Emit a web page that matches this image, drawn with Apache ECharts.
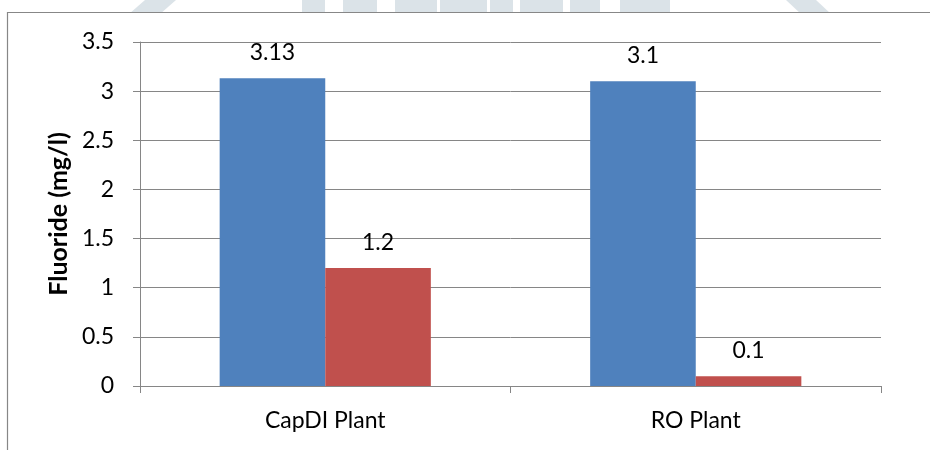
<!DOCTYPE html>
<html>
<head>
<meta charset="utf-8">
<script src="https://cdn.jsdelivr.net/npm/echarts@6/dist/echarts.min.js"></script>
<style>
  html, body { margin: 0; padding: 0; background: #ffffff; }
  #chart { width: 930px; height: 450px; }
</style>
</head>
<body>
<div id="chart"></div>
<script>
// Fluoride concentration, feed vs. treated water, per plant
const categories = ['CapDI Plant', 'RO Plant'];
const feedWater = [3.13, 3.1];
const treatedWater = [1.2, 0.1];
const yTicks = { min: 0, max: 3.5, interval: 0.5 };

const font = 'Lato, "Open Sans", "Liberation Sans", sans-serif';
const gridGray = '#868686';
const markColor = '#dbe3e8';

// faint logo pieces peeking above the chart frame
const logoBlocks = [
  [302, 23], [343, 34], [395, 42], [440, 47], [490, 23], [520, 43], [570, 30], [620, 50]
];
const logoGraphics = logoBlocks.map(([x, w]) => ({
  type: 'rect',
  z: -10,
  shape: { x: x, y: -10, width: w, height: 30, r: 8 },
  style: { fill: markColor }
}));
logoGraphics.push(
  {
    type: 'polygon', z: -10,
    shape: { points: [[145, 0], [176, 0], [160, 14], [129, 14]] },
    style: { fill: markColor }
  },
  {
    type: 'polygon', z: -10,
    shape: { points: [[786, 0], [816, 0], [831, 14], [801, 14]] },
    style: { fill: markColor }
  }
);

const chart = echarts.init(document.getElementById('chart'), null, { renderer: 'canvas' });

chart.setOption({
  backgroundColor: '#ffffff',
  animation: false,
  textStyle: { fontFamily: font },
  graphic: logoGraphics.concat([
    // white chart frame
    {
      type: 'rect',
      z: -5,
      shape: { x: 7.5, y: 12.5, width: 940, height: 460 },
      style: { fill: '#ffffff', stroke: '#878787', lineWidth: 1.2 }
    }
  ]),
  grid: { left: 140, right: 49, top: 42, bottom: 64, containLabel: false },
  xAxis: {
    type: 'category',
    data: categories,
    axisLine: { show: true, lineStyle: { color: gridGray, width: 1 } },
    axisTick: { show: true, length: 7, alignWithLabel: false, lineStyle: { color: gridGray } },
    axisLabel: { color: '#000000', fontSize: 23, fontFamily: font, margin: 23 },
    splitLine: { show: false }
  },
  yAxis: {
    type: 'value',
    min: yTicks.min,
    max: yTicks.max,
    interval: yTicks.interval,
    name: 'Fluoride (mg/l)',
    nameLocation: 'middle',
    nameGap: 68,
    nameRotate: 90,
    nameTextStyle: {
      color: '#000000', fontSize: 25, fontWeight: 'bold', fontFamily: font
    },
    axisLine: { show: true, lineStyle: { color: gridGray, width: 1 } },
    axisTick: { show: true, length: 7, lineStyle: { color: gridGray } },
    axisLabel: { color: '#000000', fontSize: 23, fontFamily: font, margin: 26 },
    splitLine: { show: true, lineStyle: { color: gridGray, width: 1 } }
  },
  series: [
    {
      name: 'Feed water',
      type: 'bar',
      data: feedWater,
      barGap: '0%',
      barCategoryGap: '43%',
      itemStyle: { color: '#4f81bd' },
      label: {
        show: true, position: 'top', distance: 14,
        color: '#000000', fontSize: 23, fontFamily: font
      }
    },
    {
      name: 'Treated water',
      type: 'bar',
      data: treatedWater,
      barGap: '0%',
      barCategoryGap: '43%',
      itemStyle: { color: '#c0504d' },
      label: {
        show: true, position: 'top', distance: 14,
        color: '#000000', fontSize: 23, fontFamily: font
      }
    }
  ]
});
</script>
</body>
</html>
